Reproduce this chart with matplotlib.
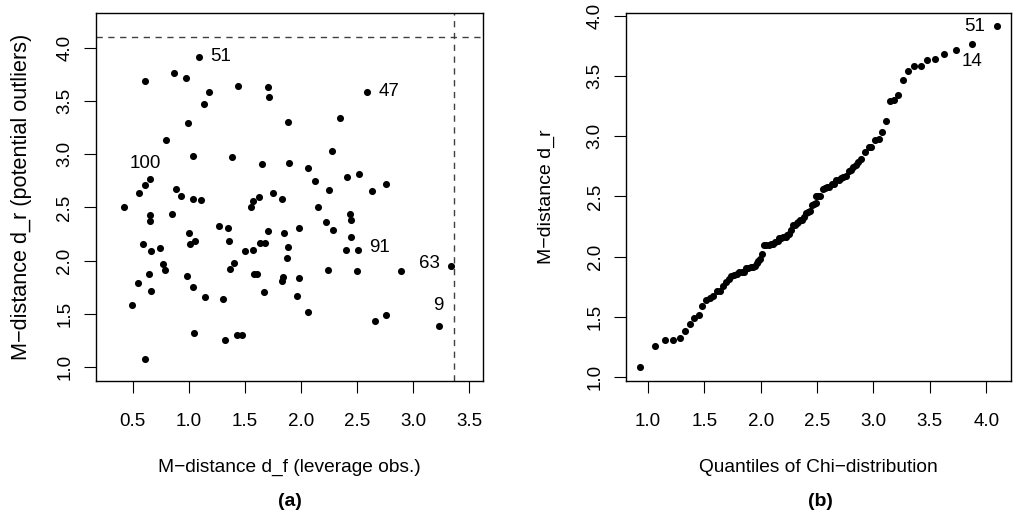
import matplotlib
matplotlib.use("Agg")
import matplotlib.pyplot as plt

plt.rcParams['font.family'] = ['Liberation Sans', 'DejaVu Sans']

# Panel (a): leverage distance d_f vs residual distance d_r
d_f = [1.094, 0.610, 0.865, 0.975, 1.177, 1.139, 1.442, 1.703, 1.718, 2.592,
       0.996, 1.884, 2.348, 0.794, 2.274, 1.035, 1.388, 1.650, 1.893, 2.060,
       2.122, 2.413, 2.517, 2.761, 2.247, 2.636, 1.754, 1.623, 1.570, 1.552,
       1.834, 2.149, 0.654, 0.613, 0.559, 0.420, 0.889, 0.934, 1.035, 1.112,
       0.848, 0.657, 0.657, 1.005, 1.014, 1.053, 0.595, 0.663, 0.744, 0.767,
       0.785, 0.643, 0.661, 0.545, 0.494, 0.607, 0.984, 1.035, 1.148, 1.050,
       1.267, 1.350, 1.362, 1.406, 1.368, 1.305, 1.323, 1.430, 1.474, 1.498,
       1.575, 1.632, 1.676, 1.709, 1.580, 1.610, 1.673, 1.852, 1.887, 1.878,
       1.837, 1.831, 1.980, 1.985, 1.965, 2.066, 2.223, 2.283, 2.440, 2.446,
       2.446, 2.401, 2.505, 2.244, 2.496, 2.889, 3.337, 3.227, 2.663, 2.755]
d_r = [3.915, 3.687, 3.765, 3.715, 3.587, 3.471, 3.640, 3.634, 3.540, 3.587,
       3.296, 3.299, 3.340, 3.130, 3.033, 2.980, 2.971, 2.908, 2.914, 2.867,
       2.748, 2.789, 2.811, 2.720, 2.661, 2.652, 2.633, 2.602, 2.561, 2.503,
       2.576, 2.503, 2.764, 2.711, 2.639, 2.501, 2.671, 2.605, 2.580, 2.567,
       2.439, 2.430, 2.373, 2.264, 2.154, 2.182, 2.157, 2.095, 2.123, 1.966,
       1.913, 1.876, 1.713, 1.791, 1.585, 1.081, 1.854, 1.757, 1.657, 1.319,
       2.329, 2.304, 2.185, 1.982, 1.920, 1.641, 1.256, 1.303, 1.307, 2.095,
       2.101, 2.167, 2.167, 2.282, 1.873, 1.873, 1.710, 2.261, 2.126, 2.023,
       1.851, 1.810, 2.304, 1.842, 1.669, 1.516, 2.364, 2.286, 2.442, 2.382,
       2.223, 2.098, 2.101, 1.910, 1.907, 1.901, 1.948, 1.385, 1.438, 1.488]
labels_a = {0: "51", 9: "47", 33: "100", 92: "91", 96: "63", 97: "9"}
cut_f = 3.364
cut_r = 4.098

# Panel (b): chi quantiles vs sorted d_r
chi_q = [0.93, 1.06, 1.15, 1.22, 1.28, 1.33, 1.37, 1.41, 1.45, 1.48,
         1.515, 1.55, 1.58, 1.61, 1.64, 1.665, 1.69, 1.715, 1.74, 1.765,
         1.79, 1.81, 1.83, 1.85, 1.87, 1.89, 1.91, 1.93, 1.95, 1.965,
         1.98, 1.995, 2.01, 2.03, 2.05, 2.07, 2.09, 2.11, 2.13, 2.15,
         2.165, 2.18, 2.20, 2.22, 2.235, 2.25, 2.27, 2.285, 2.30, 2.32,
         2.335, 2.35, 2.37, 2.385, 2.40, 2.42, 2.435, 2.455, 2.47, 2.49,
         2.49, 2.505, 2.525, 2.55, 2.57, 2.59, 2.61, 2.635, 2.65, 2.67,
         2.69, 2.71, 2.73, 2.755, 2.78, 2.80, 2.82, 2.845, 2.86, 2.888,
         2.926, 2.96, 2.98, 3.01, 3.05, 3.08, 3.11, 3.145, 3.185, 3.22,
         3.265, 3.31, 3.36, 3.42, 3.475, 3.55, 3.63, 3.735, 3.875, 4.10]
d_r_sorted = sorted(d_r)
labels_b = {99: "51", 98: "14"}

xticks_a = [0.5, 1.0, 1.5, 2.0, 2.5, 3.0, 3.5]
yticks = [1.0, 1.5, 2.0, 2.5, 3.0, 3.5, 4.0]
xticks_b = [1.0, 1.5, 2.0, 2.5, 3.0, 3.5, 4.0]

W, H = 1013, 515
fig = plt.figure(figsize=(W / 100, H / 100), dpi=100)

def setup(ax, xt, yt, fmt="{:.1f}"):
    ax.set_xticks(xt)
    ax.set_xticklabels([fmt.format(v) for v in xt])
    ax.set_yticks(yt)
    ax.set_yticklabels([fmt.format(v) for v in yt], rotation=90, va="center")
    ax.tick_params(axis="both", length=8.6, width=0.8, labelsize=13.5, color="black")
    ax.tick_params(axis="x", pad=15)
    ax.tick_params(axis="y", pad=7.5)
    for s in ax.spines.values():
        s.set_linewidth(1.0)
        s.set_color("black")

def place_labels(ax, x_frac_y, y_frac_x):
    ax.xaxis.set_label_coords(0.5, x_frac_y)
    ax.xaxis.label.set_va("center")
    ax.yaxis.set_label_coords(y_frac_x, 0.5)
    ax.yaxis.label.set_va("center")
    ax.yaxis.label.set_ha("center")

ax1 = fig.add_axes([95.7 / W, 1 - 380.7 / H, 387.6 / W, 368 / H])
ax1.scatter(d_f, d_r, s=26, color="black", linewidths=0, zorder=3)
ax1.set_xlim(0.17, 3.625)
ax1.set_ylim(0.874, 4.327)
setup(ax1, xticks_a, yticks)
ax1.axhline(cut_r, color="#404040", lw=1.0, ls=(0, (4.5, 4)))
ax1.axvline(cut_f, color="#404040", lw=1.0, ls=(0, (4.5, 4)))
offsets = {0: (8, 0, "left", "center"), 9: (8, 0, "left", "center"),
           33: (0, 9, "center", "bottom"), 92: (8, 2, "left", "center"),
           96: (-8, 2, "right", "center"), 97: (0, 9, "center", "bottom")}
for i, txt in labels_a.items():
    dx, dy, ha, va = offsets[i]
    ax1.annotate(txt, (d_f[i], d_r[i]), xytext=(dx, dy), textcoords="offset points",
                 ha=ha, va=va, fontsize=13.5)
ax1.set_xlabel("M\u2212distance d_f (leverage obs.)", fontsize=13.8)
ax1.set_ylabel("M\u2212distance d_r (potential outliers)", fontsize=15.6)
place_labels(ax1, (380.7 - 467) / 368, (21.7 - 95.7) / 387.6)
fig.text(290 / W, 1 - 502 / H, "(a)", fontsize=14, fontweight="bold", ha="center", va="center")

ax2 = fig.add_axes([626 / W, 1 - 380.7 / H, 385 / W, 368 / H])
ax2.scatter(chi_q, d_r_sorted, s=26, color="black", linewidths=0, zorder=3)
ax2.set_xlim(0.805, 4.22)
ax2.set_ylim(0.968, 4.028)
setup(ax2, xticks_b, yticks)
offs_b = {99: (-9, 0, "right", "center"), 98: (0, -6, "center", "top")}
for i, txt in labels_b.items():
    dx, dy, ha, va = offs_b[i]
    ax2.annotate(txt, (chi_q[i], d_r_sorted[i]), xytext=(dx, dy), textcoords="offset points",
                 ha=ha, va=va, fontsize=13.5)
ax2.set_xlabel("Quantiles of Chi\u2212distribution", fontsize=13.8)
ax2.set_ylabel("M\u2212distance d_r", fontsize=14)
place_labels(ax2, (380.7 - 467) / 368, (546.7 - 626) / 385)
fig.text(820 / W, 1 - 502 / H, "(b)", fontsize=14, fontweight="bold", ha="center", va="center")

fig.savefig("out.png", dpi=100)
